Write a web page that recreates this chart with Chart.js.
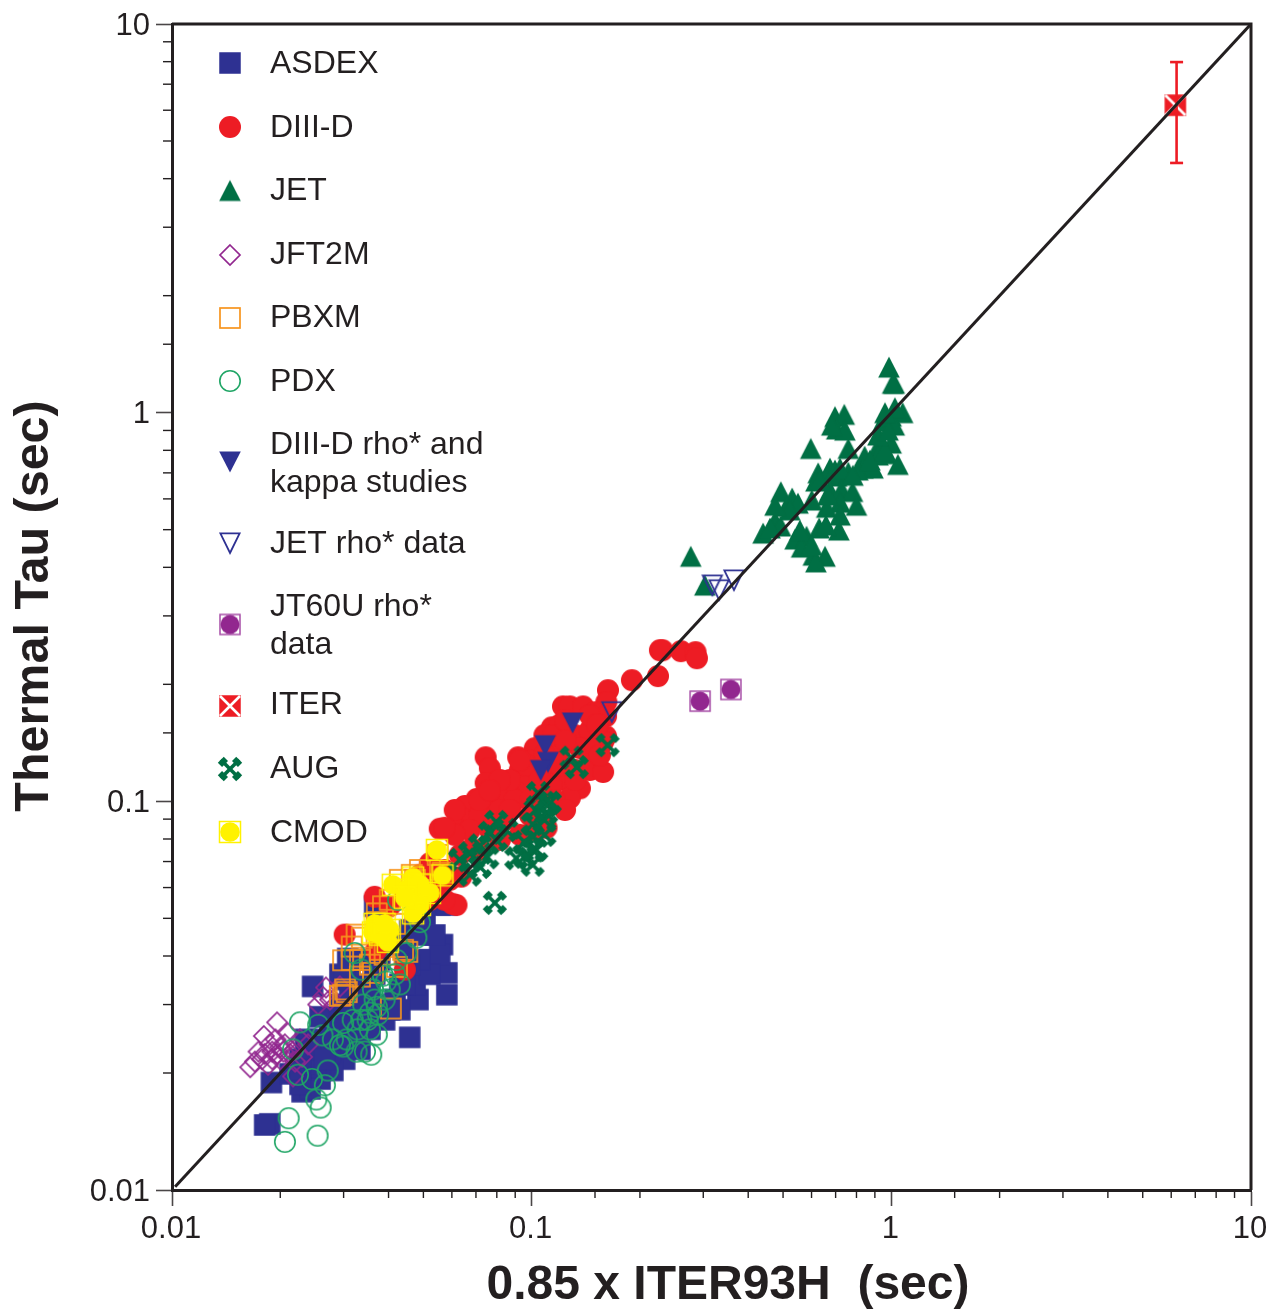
<!DOCTYPE html>
<html><head><meta charset="utf-8">
<style>html,body{margin:0;padding:0;background:#fff}canvas{display:block}</style>
<script src="https://cdn.jsdelivr.net/npm/chart.js@4"></script>
</head><body><canvas id="c" width="1273" height="1311"></canvas>
<script>
const tickValues=[0.01,0.1,1,10];
const tickLabels=['0.01','0.1','1','10'];
const xTitle='0.85 x ITER93H  (sec)';
const yTitle='Thermal Tau (sec)';
const asdex=[[.0189,.0189],[.0187,.0148],[.0181,.0147],[.023,.0179],[.0246,.0334],[.0458,.0247],[.0581,.0318],[.0565,.0428],[.0581,.0362],[.0483,.0309],[.0521,.0391],[.0555,.0403],[.0474,.0338],[.0521,.0359],[.0489,.0391],[.043,.0338],[.039,.0274],[.0355,.0259],[.0312,.0244],[.0333,.023],[.0302,.0217],[.028,.0203],[.0258,.0193],[.0242,.0182],[.0227,.0187],[.025,.0211],[.0227,.0217],[.0213,.0199],[.0258,.0244],[.0275,.0274],[.0258,.0279],[.0293,.03],[.0312,.0328],[.0293,.0359],[.0333,.0338],[.0312,.0369],[.0308,.0394],[.0355,.0391],[.0378,.0391],[.0403,.0428],[.043,.0441],[.0458,.0467],[.0505,.0511],[.0555,.0541],[.0581,.0541],[.0417,.0309],[.0378,.03],[.0344,.0283],[.0312,.0274],[.0235,.0244],[.0275,.0224],[.0293,.0244],[.0366,.0537],[.0489,.0453],[.0444,.0403],[.0355,.0328],[.043,.0291],[.0275,.0244],[.0242,.023],[.0266,.0217],[.0302,.0274],[.0333,.03],[.0444,.0338],[.0403,.0291],[.0458,.038],[.0366,.0359],[.0333,.0391],[.0302,.0348],[.0538,.0453],[.0227,.0204]];
const diiid=[[.2273,.2448],[.231,.2448],[.26,.2434],[.2855,.242],[.288,.2335],[.2245,.21],[.19,.205],[.163,.1932],[.1613,.18],[.1222,.1755],[.1277,.1755],[.139,.1755],[.15,.1695],[.161,.1655],[.161,.147],[.158,.1422],[.1138,.155],[.1198,.1575],[.1085,.148],[.102,.137],[.0917,.1298],[.0927,.1204],[.0927,.1115],[.0745,.1298],[.0765,.1217],[.0745,.1115],[.0703,.1014],[.0652,.0973],[.0637,.0905],[.0611,.0855],[.0555,.085],[.0765,.1008],[.0816,.105],[.087,.1035],[.132,.148],[.1452,.1525],[.1362,.1372],[.1198,.1355],[.1085,.1204],[.0989,.117],[.0898,.1008],[.0816,.095],[.0718,.092],[.0673,.0844],[.0765,.0844],[.0843,.0895],[.0989,.1008],[.1085,.1069],[.1198,.1135],[.132,.1204],[.1452,.1315],[.1452,.1204],[.158,.119],[.1362,.108],[.1277,.102],[.1138,.1105],[.11,.0855],[.1012,.0844],[.0927,.082],[.0816,.0796],[.0718,.075],[.0631,.0728],[.0573,.0666],[.0637,.064],[.0521,.0666],[.0555,.061],[.0602,.0545],[.0521,.0558],[.0444,.0575],[.0366,.0568],[.0403,.0537],[.0302,.0454],[.037,.0415],[.0444,.0369],[.0489,.0647],[.0611,.082],[.1198,.124],[.1012,.1277],[.15,.1395],[.0618,.0541],[.0521,.0693],[.1148,.148],[.1238,.1618],[.1452,.1665],[.1525,.1575],[.1548,.1315],[.1238,.1437],[.1085,.1315],[.0965,.124],[.1054,.1135],[.087,.1135],[.0816,.1135],[.087,.095],[.0989,.092],[.116,.1008],[.1238,.095],[.0718,.1008],[.0611,.095],[.0573,.0855],[.0673,.075],[.0592,.0628],[.0573,.0558],[.0765,.1069],[.0927,.1277],[.132,.1135]];
const jet=[[.277,.427],[.303,.36],[.985,1.31],[1.019,1.19],[1.008,1.19],[.948,.951],[.999,.98],[1.075,1.0],[1.019,.929],[.697,.977],[.74,.99],[.705,.908],[.597,.809],[.759,.809],[.999,.835],[.92,.82],[.97,.784],[1.043,.736],[.843,.773],[.918,.778],[.834,.72],[.889,.72],[.626,.7],[.675,.72],[.697,.712],[.617,.667],[.759,.703],[.705,.687],[.675,.63],[.727,.634],[.78,.627],[.72,.588],[.8,.578],[.661,.571],[.493,.626],[.53,.603],[.55,.585],[.512,.575],[.475,.526],[.492,.511],[.44,.49],[.63,.505],[.715,.499],[.54,.473],[.581,.481],[.563,.451],[.654,.427],[.607,.43],[.617,.413],[.522,.562],[.46,.505],[.557,.499],[.601,.456],[.658,.514],[.72,.545],[.666,.614],[.633,.671],[.72,.72],[.807,.712],[.872,.755],[.96,.801],[.918,.876],[.979,.902],[1.023,1.03],[.96,1.0],[.743,.902],[.683,.929],[.601,.596],[.782,.69],[.475,.578]];
const jft2m=[[.0165,.0207],[.017,.0214],[.0178,.0217],[.0174,.0227],[.0181,.0224],[.019,.0227],[.018,.0249],[.0196,.027],[.0187,.0237],[.0194,.0244],[.02,.0233],[.0206,.0237],[.0213,.0224],[.022,.023],[.0227,.0244],[.02,.0217],[.019,.0217],[.021,.0253],[.022,.0214],[.0217,.0196],[.023,.022],[.0239,.0237],[.0268,.0332],[.0293,.0334],[.0263,.0314],[.0255,.03],[.0275,.0309],[.0204,.0227],[.0196,.0224],[.0185,.021]];
const pbxm=[[.0299,.039],[.0299,.0318],[.0306,.0323],[.0293,.0316],[.0303,.0328],[.0406,.0293],[.0451,.041],[.0326,.0454],[.0316,.0423],[.0337,.0446],[.0371,.0489],[.0386,.0537],[.0371,.0515],[.0464,.0647],[.0565,.0655],[.043,.0628],[.0403,.0558],[.0333,.0354],[.0362,.0362],[.0422,.0375],[.0439,.0415],[.0521,.0666],[.0489,.0666],[.0505,.0611],[.0333,.0391],[.0378,.0415],[.0316,.0391],[.0355,.038],[.039,.0403],[.0417,.0484],[.0474,.0628],[.0548,.0728]];
const pdx=[[.0211,.0153],[.0206,.0133],[.0254,.0138],[.0259,.0163],[.0252,.0171],[.0266,.0186],[.0245,.0193],[.0224,.0198],[.0271,.0203],[.0217,.023],[.0358,.0223],[.0371,.0251],[.0344,.0227],[.0326,.0227],[.0299,.0234],[.028,.0244],[.0262,.025],[.0299,.0269],[.0336,.0274],[.0355,.0286],[.034,.03],[.0371,.0296],[.0362,.0328],[.0394,.0344],[.0336,.0369],[.0421,.0391],[.0448,.0407],[.0478,.0446],[.0489,.0489],[.0425,.0558],[.0322,.0407],[.0386,.0356],[.0318,.0274],[.0328,.0259],[.0306,.0244],[.0293,.0236],[.0355,.0259],[.0403,.0328],[.039,.0309],[.0366,.0309],[.035,.0274],[.0374,.0283],[.0417,.0359],[.043,.0338],[.0227,.027],[.0255,.0266]];
const diiidRho=[[.13,.159],[.109,.139],[.111,.126],[.106,.12]];
const jetRho=[[.318,.36],[.332,.35],[.365,.371],[.167,.17]];
const jt60u=[[.294,.181],[.358,.194]];
const iter=[[6.16,6.18]];
const iterErrorBar=[[6.21,7.98],[6.21,4.39]];
const aug=[[.1626,.1395],[.129,.1295],[.1335,.1225],[.1042,.105],[.1085,.0992],[.1025,.095],[.1124,.0992],[.0797,.0885],[.0765,.083],[.085,.0844],[.1006,.0873],[.1098,.0932],[.1006,.0812],[.103,.075],[.0906,.0714],[.1006,.0687],[.0955,.072],[.0673,.0735],[.0631,.0707],[.0718,.0678],[.0673,.0648],[.079,.0548],[.0753,.0718],[.0797,.0796],[.1085,.0895],[.1006,.075],[.1085,.082],[.0955,.0786],[.0718,.077]];
const cmod=[[.0545,.075],[.0565,.0645],[.0411,.061],[.0468,.0637],[.0451,.0592],[.0489,.0611],[.0468,.0558],[.0521,.0581],[.0489,.0541],[.0468,.0515],[.0444,.0565],[.0366,.0484],[.0403,.0467],[.0398,.0435],[.0362,.046],[.0378,.0454],[.039,.0484]];
const unityLine=[[.0102,.0102],[10,10]];

const INK='#231f20',NAVY='#2e3192',RED='#ed1c24',GREEN='#006f44',PURPLE='#92278f',ORANGE='#f7941e',PDXG='#1fa565',YEL='#fff200';
function glyph(fn){const c=document.createElement('canvas');c.width=c.height=32;const g=c.getContext('2d');g.translate(16,16);fn(g);return c;}
function disc(g,r,col){g.fillStyle=col;g.beginPath();g.arc(0,0,r,0,Math.PI*2);g.fill();}
const G={
 square:glyph(g=>{g.fillStyle=NAVY;g.fillRect(-10.75,-10.75,21.5,21.5);}),
 circle:glyph(g=>disc(g,11,RED)),
 tri:glyph(g=>{g.fillStyle=GREEN;g.beginPath();g.moveTo(0,-10.5);g.lineTo(10.8,10.5);g.lineTo(-10.8,10.5);g.closePath();g.fill();}),
 diamond:glyph(g=>{g.strokeStyle=PURPLE;g.lineWidth=1.7;g.beginPath();g.moveTo(0,-10);g.lineTo(10,0);g.lineTo(0,10);g.lineTo(-10,0);g.closePath();g.stroke();}),
 box:glyph(g=>{g.strokeStyle=ORANGE;g.lineWidth=1.7;g.strokeRect(-10,-10,20,20);}),
 ring:glyph(g=>{g.strokeStyle=PDXG;g.lineWidth=1.6;g.beginPath();g.arc(0,0,10.2,0,Math.PI*2);g.stroke();}),
 invTri:glyph(g=>{g.fillStyle=NAVY;g.beginPath();g.moveTo(0,10.5);g.lineTo(10.8,-10.5);g.lineTo(-10.8,-10.5);g.closePath();g.fill();}),
 invOpen:glyph(g=>{g.strokeStyle=NAVY;g.lineWidth=1.8;g.lineJoin='miter';g.beginPath();g.moveTo(0,10);g.lineTo(9.6,-9.7);g.lineTo(-9.6,-9.7);g.closePath();g.stroke();}),
 jt:glyph(g=>{g.strokeStyle='#a64ca6';g.lineWidth=1.5;g.strokeRect(-10,-10,20,20);disc(g,9.4,PURPLE);}),
 iter:glyph(g=>{g.fillStyle=RED;g.fillRect(-10.75,-10.75,21.5,21.5);g.strokeStyle='#fff';g.lineWidth=2.6;g.beginPath();g.moveTo(-10,-10);g.lineTo(10,10);g.moveTo(10,-10);g.lineTo(-10,10);g.stroke();}),
 aug:glyph(g=>{g.fillStyle=GREEN;g.rotate(Math.PI/4);g.fillRect(-13,-1.8,26,3.6);g.fillRect(-1.8,-13,3.6,26);g.fillRect(-13,-4.2,6,8.4);g.fillRect(7,-4.2,6,8.4);g.fillRect(-4.2,-13,8.4,6);g.fillRect(-4.2,7,8.4,6);}),
 cmod:glyph(g=>{g.strokeStyle=YEL;g.lineWidth=1.5;g.strokeRect(-10.5,-10.5,21,21);disc(g,9.8,YEL);})
};
const pts=a=>a.map(p=>({x:p[0],y:p[1]}));
const series=[
 {label:'ASDEX',data:asdex,m:G.square},
 {label:'DIII-D',data:diiid,m:G.circle},
 {label:'JET',data:jet,m:G.tri},
 {label:'JFT2M',data:jft2m,m:G.diamond},
 {label:'PBXM',data:pbxm,m:G.box},
 {label:'PDX',data:pdx,m:G.ring},
 {label:'DIII-D rho* and|kappa studies',data:diiidRho,m:G.invTri},
 {label:'JET rho* data',data:jetRho,m:G.invOpen},
 {label:'JT60U rho*|data',data:jt60u,m:G.jt},
 {label:'ITER',data:iter,m:G.iter},
 {label:'AUG',data:aug,m:G.aug},
 {label:'CMOD',data:cmod,m:G.cmod}
];
const legendY=[63,127,190.5,255,318,381,462,543,624.5,706,769,832];
const legendTextY=[64,128,191.5,255,318,382,464,544,626.5,705,769,833];
const N=series.length;
const datasets=series.map((s,i)=>({label:s.label,data:pts(s.data),pointStyle:s.m,pointRadius:11,showLine:false,order:N+2-i}));
datasets.push({label:'ITER error',data:pts(iterErrorBar),showLine:true,borderColor:RED,borderWidth:2.6,pointStyle:'line',pointRadius:6.5,pointBorderColor:RED,pointBorderWidth:2.6,order:2});
datasets.push({label:'y = x',data:pts(unityLine),showLine:true,borderColor:INK,borderWidth:3,pointRadius:0,order:1});

const lab=v=>{const i=tickValues.findIndex(t=>Math.abs(t-v)/t<1e-6);return i<0?'':tickLabels[i];};
const tickCb=function(v){return lab(v);};
const majorW=c=>lab(c.tick.value)?1.6:0;
const FONT='"Liberation Sans",Arial,sans-serif';
function axis(pad,off){return {type:'logarithmic',min:0.01,max:10,
 border:{display:true,color:INK,width:3},
 grid:{display:true,drawOnChartArea:false,drawTicks:true,tickLength:16,tickColor:'#4a4647',tickWidth:majorW},
 ticks:{callback:tickCb,color:INK,autoSkip:false,maxRotation:0,padding:pad,labelOffset:off,font:{family:FONT,size:31}}};}
const zero=s=>{s.paddingLeft=s.paddingRight=s.paddingTop=s.paddingBottom=0;};
const sx=axis(5,-1);sx.afterFit=s=>{s.height=121;zero(s);};
const sy=axis(6,2);sy.afterFit=s=>{s.width=172;zero(s);};

const frame={id:'frame',afterDraw(ch){const c=ch.ctx,a=ch.chartArea;c.save();c.strokeStyle=INK;c.lineWidth=3;
  c.beginPath();c.moveTo(a.left,a.top);c.lineTo(a.right,a.top);c.lineTo(a.right,a.bottom);c.stroke();
  c.lineWidth=1.4;
  const sX=ch.scales.x,sY=ch.scales.y;
  sX.ticks.forEach((t,i)=>{if(lab(t.value))return;const p=sX.getPixelForTick(i);c.beginPath();c.moveTo(p,a.bottom);c.lineTo(p,a.bottom+8);c.stroke();});
  sY.ticks.forEach((t,i)=>{if(lab(t.value))return;const p=sY.getPixelForTick(i);c.beginPath();c.moveTo(a.left,p);c.lineTo(a.left-9,p);c.stroke();});
  c.fillStyle=INK;c.textBaseline='middle';c.textAlign='center';c.font='bold 48px '+FONT;
  c.fillText(xTitle,728,1285.5);
  c.save();c.translate(34.5,606);c.rotate(-Math.PI/2);c.font='bold 48.5px '+FONT;c.fillText(yTitle,0,0);c.restore();
  c.font='32px '+FONT;c.textAlign='left';
  series.forEach((s,i)=>{c.drawImage(s.m,230-16,legendY[i]-16);const y=legendTextY[i];
    const lines=s.label.split('|');
    if(lines.length===1)c.fillText(lines[0],270,y);
    else{c.fillText(lines[0],270,y-19);c.fillText(lines[1],270,y+19);}});
  c.restore();}};

new Chart(document.getElementById('c'),{type:'scatter',data:{datasets},plugins:[frame],
 options:{responsive:false,animation:false,events:[],
  layout:{padding:{top:24,right:22,left:0,bottom:0}},
  plugins:{legend:{display:false},tooltip:{enabled:false},title:{display:false}},
  scales:{x:sx,y:sy}}});
</script></body></html>
